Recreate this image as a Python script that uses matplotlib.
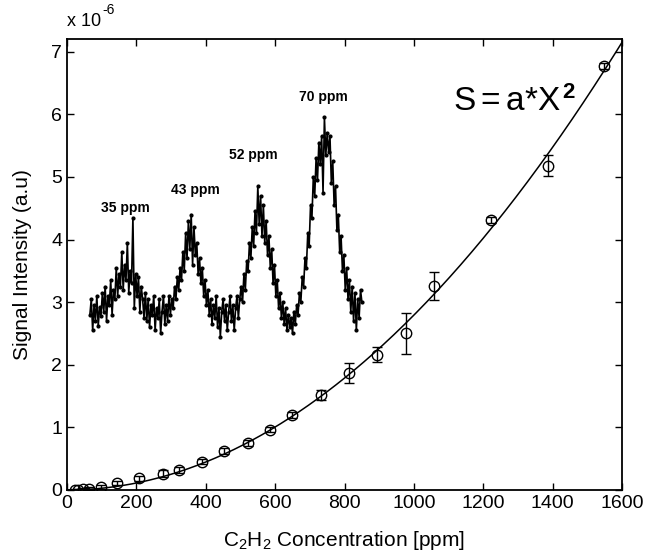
import numpy as np
import matplotlib
matplotlib.use('Agg')
import matplotlib.pyplot as plt

plt.rcParams['font.family'] = ['Liberation Sans', 'DejaVu Sans']
plt.rcParams['mathtext.fontset'] = 'custom'
plt.rcParams['mathtext.rm'] = 'Liberation Sans'
plt.rcParams['mathtext.it'] = 'Liberation Sans'
plt.rcParams['mathtext.bf'] = 'Liberation Sans:bold'

# calibration points (ppm, signal in 1e-6 a.u., error)
conc = [23, 32, 46, 63, 98, 144, 208, 277, 323, 389, 453, 522, 585, 649,
        732, 813, 894, 977, 1058, 1222, 1387, 1548]
signal = [0.0, 0.0, 0.01, 0.02, 0.05, 0.11, 0.19, 0.26, 0.32, 0.45, 0.62,
          0.75, 0.96, 1.2, 1.52, 1.87, 2.16, 2.5, 3.26, 4.31, 5.18, 6.77]
err = [0.02, 0.02, 0.02, 0.02, 0.03, 0.03, 0.04, 0.06, 0.05, 0.04, 0.05,
       0.05, 0.04, 0.05, 0.08, 0.16, 0.12, 0.32, 0.22, 0.05, 0.17, 0.05]

# inset spectrum trace (drawn in main-axis units)
trace = [
    2.80, 3.05, 2.55, 2.95, 2.70, 3.10, 2.62, 2.92, 2.78, 3.15,
    2.85, 3.25, 2.70, 3.10, 2.95, 3.35, 2.80, 3.20, 3.05, 3.55,
    3.10, 3.45, 3.25, 3.80, 3.20, 3.60, 3.35, 3.95, 3.15, 3.50,
    3.30, 4.35, 2.90, 3.45, 3.10, 3.40, 2.85, 3.25, 3.05, 2.75,
    3.15, 2.70, 3.05, 2.60, 2.95, 2.80, 3.10, 2.55, 2.90, 2.75,
    3.05, 2.50, 2.85, 3.10, 2.65, 2.95, 2.70, 3.10, 2.80, 3.05,
    2.90, 3.25, 3.05, 3.40, 3.20, 3.55, 3.35, 3.80, 3.50, 4.10,
    3.70, 4.30, 3.85, 4.40, 3.60, 4.20, 3.75, 3.95, 3.45, 3.70,
    3.30, 3.55, 3.10, 3.35, 2.95, 3.20, 2.80, 3.05, 2.65, 2.95,
    2.75, 3.10, 2.60, 2.90, 2.45, 2.85, 3.05, 2.70, 2.95, 2.55,
    2.85, 3.10, 2.70, 2.95, 2.55, 2.90, 3.10, 2.75, 3.05, 3.25,
    3.00, 3.45, 3.20, 3.65, 3.50, 3.95, 3.70, 4.20, 3.90, 4.45,
    4.10, 4.85, 4.25, 4.70, 4.05, 4.55, 3.95, 4.30, 3.75, 4.05,
    3.55, 3.85, 3.30, 3.60, 3.10, 3.35, 2.90, 3.15, 2.75, 3.00,
    2.65, 2.90, 2.55, 2.80, 2.60, 2.75, 2.50, 2.85, 2.65, 2.95,
    2.80, 3.15, 3.00, 3.40, 3.25, 3.70, 3.55, 4.10, 3.90, 4.55,
    4.35, 5.00, 4.70, 5.30, 4.95, 5.55, 5.20, 5.65, 4.75, 5.95,
    5.35, 5.70, 5.40, 5.65, 4.90, 5.25, 4.55, 4.85, 4.15, 4.40,
    3.80, 4.05, 3.50, 3.75, 3.20, 3.55, 3.05, 3.35, 2.85, 3.25,
    2.70, 3.15, 2.55, 3.05, 2.75, 3.20, 3.00]
trace_start, trace_end = 66, 850

peak_labels = ['35 ppm', '43 ppm', '52 ppm', '70 ppm']
peak_x = [167, 369, 536, 738]
peak_y = [4.5, 4.79, 5.35, 6.28]

fig = plt.figure(figsize=(6.46, 5.6), dpi=100)
ax = fig.add_axes([0.1037, 0.125, 0.8593, 0.805])

# quadratic fit S = a*X^2
x = np.array(conc, dtype=float)
y = np.array(signal)
a = np.sum(x**2 * y) / np.sum(x**4)
xf = np.linspace(0, 1600, 300)
ax.plot(xf, a * xf**2, color='black', lw=1.1)

ax.errorbar(conc, signal, yerr=err, fmt='o', mfc='none', mec='black',
            ecolor='black', ms=7.5, mew=1.0, elinewidth=1.0, capsize=3.8,
            capthick=1.0)

tx = np.linspace(trace_start, trace_end, len(trace))
ax.plot(tx, trace, '.-', color='black', lw=1.2, ms=4)

for lab, px, py in zip(peak_labels, peak_x, peak_y):
    ax.text(px, py, lab, ha='center', va='center', fontsize=10,
            fontweight='bold')

eq = ax.text(1113, 6.2, r'S$=$a$*$X', fontsize=24, va='center', ha='left')
ax.annotate('2', xy=(1, 1), xycoords=eq, xytext=(1, 3),
            textcoords='offset points', fontsize=16, fontweight='bold',
            ha='left', va='top')

mult = ax.text(0, 1.02, 'x 10', transform=ax.transAxes, fontsize=13,
               ha='left', va='bottom')
ax.annotate('-6', xy=(1, 1), xycoords=mult, xytext=(1, -3),
            textcoords='offset points', fontsize=10, ha='left',
            va='bottom')

ax.set_xlim(0, 1600)
ax.set_ylim(0, 7.2)
ax.set_xticks(range(0, 1601, 200))
ax.set_yticks(range(0, 8))
ax.tick_params(direction='in', top=True, right=True, labelsize=14,
               length=5, width=1)
for s in ax.spines.values():
    s.set_linewidth(1.3)

ax.set_xlabel(r'C$_2$H$_2$ Concentration [ppm]', fontsize=15, labelpad=12)
ax.set_ylabel('Signal Intensity (a.u)', fontsize=15, labelpad=14)

fig.savefig('out.png', dpi=100)
